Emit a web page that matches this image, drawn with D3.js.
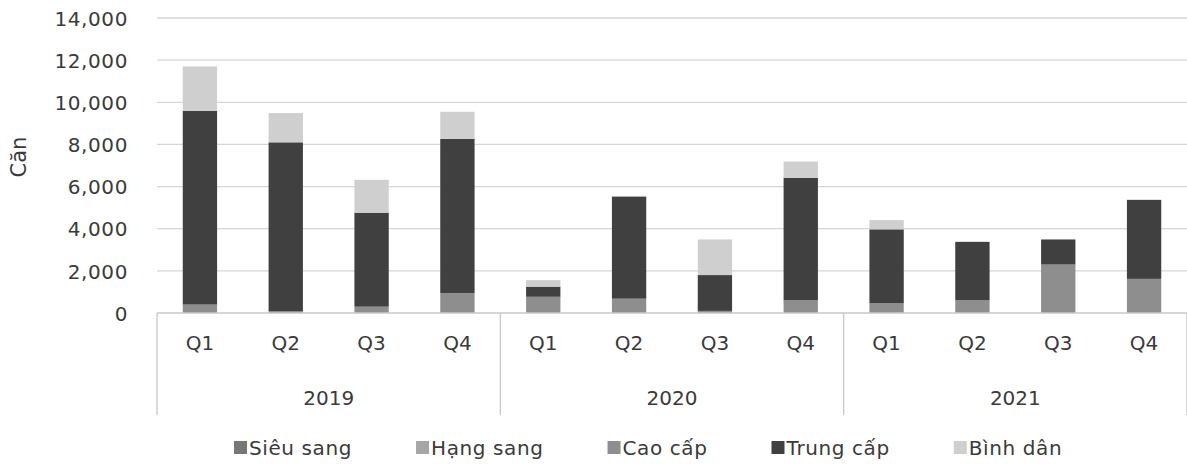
<!DOCTYPE html>
<html>
<head>
<meta charset="utf-8">
<script src="https://cdn.jsdelivr.net/npm/d3@7"></script>
<style>
  html, body { margin: 0; padding: 0; background: #ffffff; }
  svg { display: block; }
  text { font-family: "DejaVu Sans", "Noto Sans", sans-serif; fill: #3a3a3a; }
</style>
</head>
<body>
<svg id="chart" width="1187" height="467"></svg>
<script>
// Quarterly supply (units) by segment, 2019–2021
const years = ["2019", "2020", "2021"];
const quarters = ["Q1", "Q2", "Q3", "Q4"];
const seriesNames = ["Siêu sang", "Hạng sang", "Cao cấp", "Trung cấp", "Bình dân"];

const sieuSang  = [0, 0, 0, 0, 0, 0, 0, 0, 0, 0, 0, 0];
const hangSang  = [0, 0, 0, 0, 0, 0, 0, 0, 0, 0, 0, 0];
const caoCap    = [400, 80, 300, 950, 770, 680, 100, 600, 460, 600, 2300, 1620];
const trungCap  = [9200, 8020, 4460, 7310, 480, 4850, 1700, 5820, 3510, 2770, 1190, 3750];
const binhDan   = [2100, 1390, 1560, 1290, 310, 30, 1690, 770, 440, 30, 0, 0];

const yTicks = [0, 2000, 4000, 6000, 8000, 10000, 12000, 14000];
const colors = ["#777777", "#a6a6a6", "#8e8e8e", "#404040", "#cfcfcf"];

const svg = d3.select("#chart");
const plotLeft = 157, plotRight = 1187, plotTop = 18, base = 313;
const catBottom = 415;

// one row per quarter, keyed by "year|quarter"
const keys = [];
years.forEach(yr => quarters.forEach(q => keys.push(yr + "|" + q)));
const seriesData = [sieuSang, hangSang, caoCap, trungCap, binhDan];
const rows = keys.map((k, i) => {
  const r = { key: k };
  seriesNames.forEach((s, j) => r[s] = seriesData[j][i]);
  return r;
});

const x = d3.scaleBand().domain(keys).range([plotLeft, plotRight]).paddingInner(0.6).paddingOuter(0.3);
const y = d3.scaleLinear().domain([0, 14000]).range([base, plotTop]);

// gridlines
svg.append("g")
  .selectAll("line")
  .data(yTicks.filter(t => t > 0))
  .join("line")
  .attr("x1", plotLeft).attr("x2", plotRight)
  .attr("y1", d => y(d)).attr("y2", d => y(d))
  .attr("stroke", "#d6d6d6").attr("stroke-width", 1.3);

// y axis labels
const yAxis = d3.axisLeft(y).tickValues(yTicks).tickSize(0).tickPadding(0)
  .tickFormat(d3.format(","));
const gy = svg.append("g").attr("transform", "translate(128,0)").call(yAxis);
gy.select(".domain").remove();
gy.selectAll("text").style("font-size", "20px").attr("dy", "0.36em")
  .style("letter-spacing", "0.6px")
  .style("font-family", "DejaVu Sans").style("fill", "#3a3a3a");

// y axis title
svg.append("text")
  .attr("transform", "translate(26,157) rotate(-90)")
  .attr("text-anchor", "middle")
  .style("font-size", "21px")
  .text("Căn");

// stacked bars
const stack = d3.stack().keys(seriesNames)(rows);
svg.append("g")
  .selectAll("g")
  .data(stack)
  .join("g")
  .attr("fill", (d, i) => colors[i])
  .selectAll("rect")
  .data(d => d)
  .join("rect")
  .attr("x", d => x(d.data.key))
  .attr("width", x.bandwidth())
  .attr("y", d => y(d[1]))
  .attr("height", d => y(d[0]) - y(d[1]));

// baseline
svg.append("line")
  .attr("x1", plotLeft).attr("x2", plotRight)
  .attr("y1", base).attr("y2", base)
  .attr("stroke", "#c8c8c8").attr("stroke-width", 1.3);

// category axis: quarter labels
svg.append("g")
  .selectAll("text")
  .data(keys)
  .join("text")
  .attr("x", d => x(d) + x.bandwidth() / 2)
  .attr("y", 343)
  .attr("dy", "0.36em")
  .attr("text-anchor", "middle")
  .style("font-size", "20px")
  .text(d => d.split("|")[1]);

// year group separators and labels
const groupEdges = years.map((yr, i) => plotLeft + i * 4 * (plotRight - plotLeft) / 12);
groupEdges.push(plotRight);
svg.append("g")
  .selectAll("line")
  .data(groupEdges)
  .join("line")
  .attr("x1", d => d).attr("x2", d => d)
  .attr("y1", base).attr("y2", catBottom)
  .attr("stroke", "#c8c8c8").attr("stroke-width", 1.3);

svg.append("g")
  .selectAll("text")
  .data(years)
  .join("text")
  .attr("x", (d, i) => (groupEdges[i] + groupEdges[i + 1]) / 2)
  .attr("y", 398)
  .attr("dy", "0.36em")
  .attr("text-anchor", "middle")
  .style("font-size", "20px")
  .text(d => d);

// legend
const legend = svg.append("g");
let lx = 234;
seriesNames.forEach((name, i) => {
  const g = legend.append("g").attr("transform", `translate(${lx},0)`);
  g.append("rect").attr("x", 0).attr("y", 441).attr("width", 13).attr("height", 13)
    .attr("fill", colors[i]);
  const t = g.append("text").attr("x", 15).attr("y", 448).attr("dy", "0.36em")
    .style("font-size", "20px")
    .style("letter-spacing", "0.6px")
    .text(name);
  lx += 15 + t.node().getComputedTextLength() + 64;
});
</script>
</body>
</html>
